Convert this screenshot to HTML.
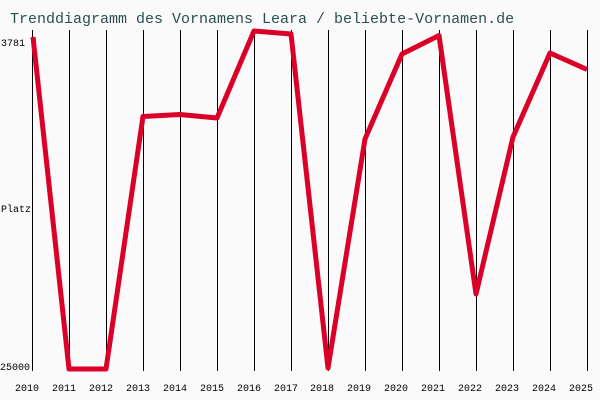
<!DOCTYPE html>
<html><head><meta charset="utf-8"><style>
html,body{margin:0;padding:0;background:#fafafa;}
svg{display:block;}
</style></head><body>
<svg width="600" height="400" xmlns="http://www.w3.org/2000/svg">
<rect width="600" height="400" fill="#fafafa"/>
<text x="10" y="23" font-family="Liberation Mono, monospace" font-size="15" fill="#2b4f4f">Trenddiagramm des Vornamens Leara / beliebte-Vornamen.de</text>
<g stroke="#000" stroke-width="1">
<line x1="32.5" y1="30" x2="32.5" y2="371"/>
<line x1="69.5" y1="30" x2="69.5" y2="371"/>
<line x1="106.5" y1="30" x2="106.5" y2="371"/>
<line x1="143.5" y1="30" x2="143.5" y2="371"/>
<line x1="180.5" y1="30" x2="180.5" y2="371"/>
<line x1="217.5" y1="30" x2="217.5" y2="371"/>
<line x1="254.5" y1="30" x2="254.5" y2="371"/>
<line x1="291.5" y1="30" x2="291.5" y2="371"/>
<line x1="328.5" y1="30" x2="328.5" y2="371"/>
<line x1="365.5" y1="30" x2="365.5" y2="371"/>
<line x1="402.5" y1="30" x2="402.5" y2="371"/>
<line x1="439.5" y1="30" x2="439.5" y2="371"/>
<line x1="476.5" y1="30" x2="476.5" y2="371"/>
<line x1="513.5" y1="30" x2="513.5" y2="371"/>
<line x1="550.5" y1="30" x2="550.5" y2="371"/>
<line x1="587.5" y1="30" x2="587.5" y2="371"/>
</g>
<polyline fill="none" stroke="#db0028" stroke-width="5" stroke-linejoin="round" points="33,37 69,369 106,369 143,116.5 180,114.5 217,118 254,31 291,34 328,368 365,139 402,54 439,35.5 476,294 513,137 550,53 587,69.5"/>
<g font-family="Liberation Mono, monospace" font-size="10" fill="#000">
<text x="1" y="46">3781</text>
<text x="1" y="212">Platz</text>
<text x="0" y="370">25000</text>
<g text-anchor="middle">
<text x="27" y="391">2010</text>
<text x="64" y="391">2011</text>
<text x="101" y="391">2012</text>
<text x="138" y="391">2013</text>
<text x="175" y="391">2014</text>
<text x="212" y="391">2015</text>
<text x="249" y="391">2016</text>
<text x="286" y="391">2017</text>
<text x="322" y="391">2018</text>
<text x="359" y="391">2019</text>
<text x="396" y="391">2020</text>
<text x="433" y="391">2021</text>
<text x="470" y="391">2022</text>
<text x="507" y="391">2023</text>
<text x="544" y="391">2024</text>
<text x="581" y="391">2025</text>
</g>
</g>
</svg>
</body></html>
